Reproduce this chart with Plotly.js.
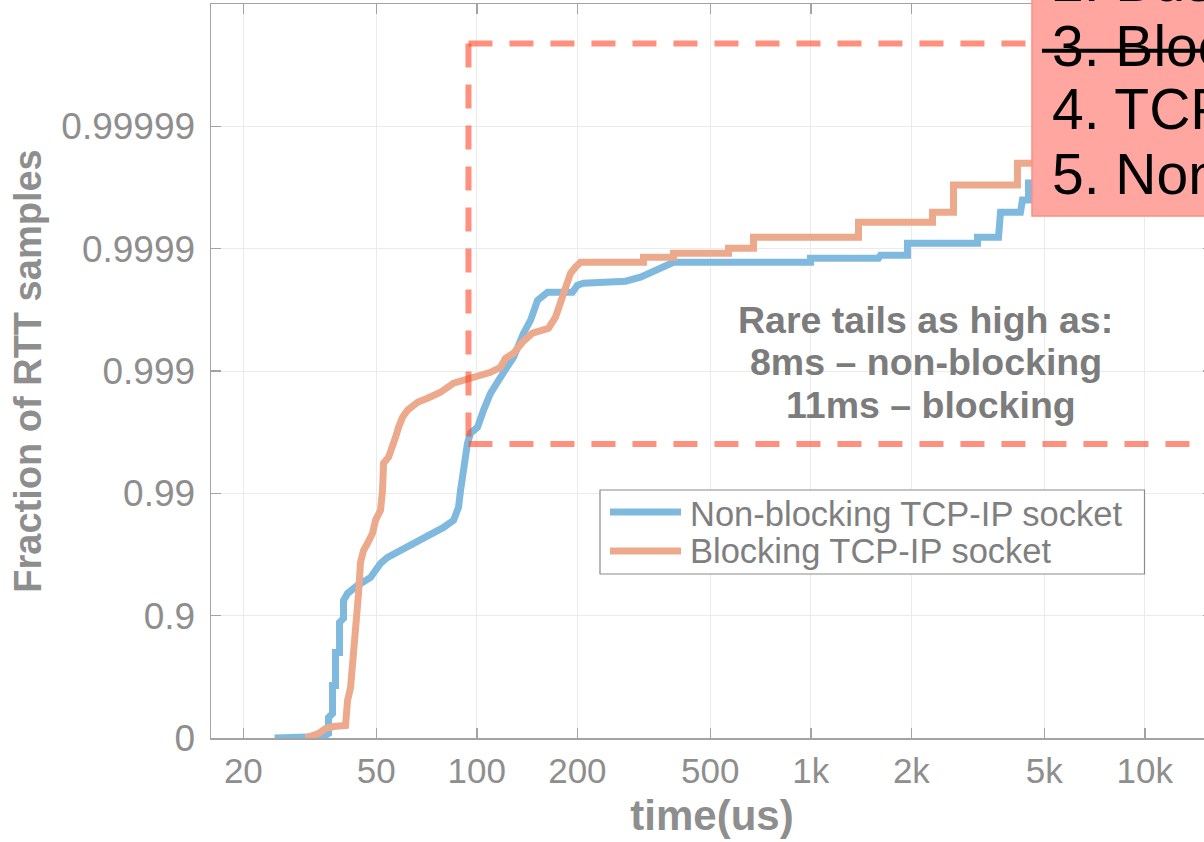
<!DOCTYPE html>
<html>
<head>
<meta charset="utf-8">
<script src="https://cdn.plot.ly/plotly-3.0.1.min.js"></script>
<style>
  html, body { margin: 0; padding: 0; background: #fff; overflow: hidden; }
  #chart { width: 1300px; height: 842px; }
</style>
</head>
<body>
<div id="chart"></div>
<script>
// RTT distribution (CDF) for the two socket modes, time in microseconds.
const nonBlockingTime = [24.8, 34.75, 35.97, 35.97, 36.98, 36.98, 37.75, 37.75, 38.81, 38.81, 39.89, 39.89,
  41.02, 43.93, 48.05, 51.48, 54.03, 59.10, 64.63, 69.25, 74.20, 79.50, 85.18, 88.17, 89.39, 91.26, 93.77,
  95.73, 100.5, 104.7, 109.9, 117.7, 128.8, 138.0, 144.8, 152.0, 162.8, 193.4, 200.1, 208.6, 278.7, 309.1,
  331.1, 362.2, 388.1, 997.8, 997.8, 1594, 1617, 1947, 1947, 3155, 3155, 3647, 3698, 4243, 4302, 4484,
  4484, 6000, 6000, 8000];
const nonBlockingFrac = [0, 0.028, 0.081, 0.320, 0.370, 0.628, 0.628, 0.800, 0.800, 0.8865, 0.8947, 0.925,
  0.9342, 0.9434, 0.9513, 0.9626, 0.9666, 0.9707, 0.9744, 0.9771, 0.9788, 0.9810, 0.9834, 0.9870, 0.99055,
  0.99387, 0.99610, 0.99677, 0.997116, 0.997905, 0.998479, 0.998875, 0.999228, 0.999509, 0.999615,
  0.999736, 0.999773, 0.999773, 0.999801, 0.9998085, 0.9998156, 0.999829, 0.9998443, 0.9998583, 0.999871,
  0.999871, 0.9998804, 0.9998804, 0.999887, 0.999887, 0.9999098, 0.9999098, 0.9999195, 0.9999195,
  0.9999497, 0.9999497, 0.9999599, 0.9999599, 0.9999709, 0.9999709, 0.999982, 0.999982];

const blockingTime = [30.69, 33.57, 35.24, 37.24, 40.45, 41.02, 41.88, 42.46, 43.33, 44.24, 44.85, 45.79,
  47.07, 48.72, 49.74, 51.48, 52.20, 52.56, 54.40, 55.94, 57.11, 58.30, 59.94, 62.01, 66.44, 71.17, 77.86,
  85.18, 91.26, 100.5, 109.9, 117.7, 121.9, 128.8, 137.0, 146.8, 155.1, 163.9, 172.0, 178.1, 184.3, 190.8,
  197.4, 204.4, 315.5, 315.5, 388.1, 388.1, 566.9, 566.9, 673.7, 673.7, 1389, 1389, 2314, 2314, 2674, 2674,
  4156, 4156, 6500, 6500, 11000];
const blockingFrac = [0, 0.0812, 0.1637, 0.1948, 0.2099, 0.5065, 0.6137, 0.7349, 0.8603, 0.9342, 0.9633,
  0.9707, 0.9744, 0.9788, 0.9834, 0.98623, 0.99055, 0.994317, 0.994924, 0.995795, 0.996518, 0.997116,
  0.997610, 0.997905, 0.998199, 0.998329, 0.998508, 0.998741, 0.998810, 0.998896, 0.998976, 0.999068,
  0.999213, 0.999284, 0.999418, 0.999509, 0.999527, 0.999553, 0.999637, 0.999721, 0.999781, 0.9998414,
  0.9998583, 0.999871, 0.999871, 0.9998826, 0.9998826, 0.9998912, 0.9998912, 0.9999009, 0.9999009,
  0.9999195, 0.9999195, 0.9999393, 0.9999393, 0.9999497, 0.9999497, 0.9999698, 0.9999698, 0.99998,
  0.99998, 0.9999893, 0.9999893];

const seriesNames = ['Non-blocking TCP-IP socket', 'Blocking TCP-IP socket'];

// Axis ticks
const timeTicks = [20, 50, 100, 200, 500, 1000, 2000, 5000, 10000];
const timeTickText = ['20', '50', '100', '200', '500', '1k', '2k', '5k', '10k'];
const fracTickText = ['0', '0.9', '0.99', '0.999', '0.9999', '0.99999'];

// Region of rare tail events (time in us, fraction of samples)
const tailStartTime = 94.4;
const tailFracLow = 0.99605;
const tailFracHigh = 0.9999979;

const slideLines = ['2. Busy polling', '3. Blocking socket', '4. TCP-IP stack', '5. Non-blocking socket'];
const noteLines = ['Rare tails as high as:', '8ms \u2013 non-blocking', '11ms \u2013 blocking'];

// "Nines" scale: 0.9 -> 1, 0.99 -> 2, ...
const nines = p => (p <= 0 ? 0 : -Math.log10(1 - p));
const fracTickVals = fracTickText.map(t => nines(parseFloat(t)));

const FONT = 'Liberation Sans, Arial, Helvetica, sans-serif';
const GRAY = '#8e8e8e';
const BLUE = '#80b9de';
const ORANGE = '#eca98c';
const DASH_RED = 'rgba(255,70,40,0.6)';

const traces = [
  { x: nonBlockingTime, y: nonBlockingFrac.map(nines), name: seriesNames[0], type: 'scatter', mode: 'lines',
    line: { color: BLUE, width: 7 }, hoverinfo: 'x+name' },
  { x: blockingTime, y: blockingFrac.map(nines), name: seriesNames[1], type: 'scatter', mode: 'lines',
    line: { color: ORANGE, width: 7 }, hoverinfo: 'x+name' }
];

// Plot-area geometry helpers for overlays (paper coordinates)
const L = 211, T = 4, PW = 1002, PH = 734;
const px = v => (v - L) / PW;
const py = v => (T + PH - v) / PH;

const yLow = nines(tailFracLow), yHigh = nines(tailFracHigh);
const shapes = [
  // rare-tail region outline
  { type: 'line', xref: 'x', yref: 'y', x0: tailStartTime, x1: 1e6, y0: yHigh, y1: yHigh,
    line: { color: DASH_RED, width: 6, dash: '24px,17px' }, layer: 'above' },
  { type: 'line', xref: 'x', yref: 'y', x0: tailStartTime, x1: tailStartTime, y0: yHigh, y1: yLow,
    line: { color: DASH_RED, width: 6, dash: '24px,17px' }, layer: 'above' },
  { type: 'line', xref: 'x', yref: 'y', x0: tailStartTime, x1: 1e6, y0: yLow, y1: yLow,
    line: { color: DASH_RED, width: 6, dash: '24px,17px' }, layer: 'above' },
  // legend frame and samples
  { type: 'rect', xref: 'paper', yref: 'paper', x0: px(600), x1: px(1144.5), y0: py(574), y1: py(490),
    fillcolor: '#ffffff', line: { color: '#8a8a8a', width: 1.2 }, layer: 'above' },
  { type: 'line', xref: 'paper', yref: 'paper', x0: px(610), x1: px(681), y0: py(512), y1: py(512),
    line: { color: BLUE, width: 7 }, layer: 'above' },
  { type: 'line', xref: 'paper', yref: 'paper', x0: px(610), x1: px(681), y0: py(551), y1: py(551),
    line: { color: ORANGE, width: 7 }, layer: 'above' },
  // slide overlay box
  { type: 'rect', xref: 'paper', yref: 'paper', x0: px(1032), x1: 1.2, y0: py(216), y1: 1.2,
    fillcolor: '#ffa6a1', line: { color: '#ff8c84', width: 1.5 }, layer: 'above' },
  { type: 'line', xref: 'paper', yref: 'paper', x0: px(1042), x1: 1.2, y0: py(50.7), y1: py(50.7),
    line: { color: '#000000', width: 4 }, layer: 'above' }
];

const annotations = [];
// legend labels
[[seriesNames[0], 513.6], [seriesNames[1], 550.6]].forEach(([txt, yc]) => {
  annotations.push({ xref: 'paper', yref: 'paper', x: px(688), y: py(yc), xanchor: 'left', yanchor: 'middle',
    text: txt, showarrow: false, font: { family: FONT, size: 34.5, color: '#7f7f7f' } });
});
// note on tail latency
[[noteLines[0], 925, 320], [noteLines[1], 926, 362], [noteLines[2], 930.5, 405]].forEach(([txt, xc, yc]) => {
  annotations.push({ xref: 'paper', yref: 'paper', x: px(xc), y: py(yc), xanchor: 'center', yanchor: 'middle',
    text: '<b>' + txt + '</b>', showarrow: false, font: { family: FONT, size: 37.5, color: '#7c7c7c' } });
});
// slide list text
[-18.5, 45.5, 109.5, 173.5].forEach((yc, i) => {
  annotations.push({ xref: 'paper', yref: 'paper', x: px(1050), y: py(yc), xanchor: 'left', yanchor: 'middle',
    text: slideLines[i], showarrow: false, font: { family: FONT, size: 57, color: '#000000' } });
});

const axisCommon = {
  showline: true, linecolor: '#a3a3a3', linewidth: 1.5, mirror: 'ticks',
  ticks: 'inside', ticklen: 10, tickwidth: 1.5, tickcolor: '#a3a3a3',
  showgrid: true, gridcolor: '#ebebeb', gridwidth: 1, zeroline: false
};

const layout = {
  width: 1300, height: 842,
  margin: { l: L, r: 1300 - L - PW, t: T, b: 842 - T - PH },
  paper_bgcolor: '#ffffff', plot_bgcolor: '#ffffff',
  showlegend: false,
  xaxis: Object.assign({}, axisCommon, {
    type: 'log', range: [Math.log10(16), Math.log10(16000)],
    tickmode: 'array', tickvals: timeTicks, ticktext: timeTickText,
    tickfont: { family: FONT, size: 35, color: GRAY },
    ticklabelstandoff: 1,
    title: { text: '<b>time(us)</b>', font: { family: FONT, size: 42, color: GRAY }, standoff: 12 }
  }),
  yaxis: Object.assign({}, axisCommon, {
    range: [0, 6], tickmode: 'array', tickvals: fracTickVals, ticktext: fracTickText,
    tickfont: { family: FONT, size: 37, color: GRAY },
    ticklabelstandoff: 7,
    title: { text: '<b>Fraction of RTT samples</b>', font: { family: FONT, size: 38, color: GRAY }, standoff: 8 }
  }),
  shapes: shapes,
  annotations: annotations
};

Plotly.newPlot('chart', traces, layout, { displayModeBar: false, staticPlot: true });
</script>
</body>
</html>
